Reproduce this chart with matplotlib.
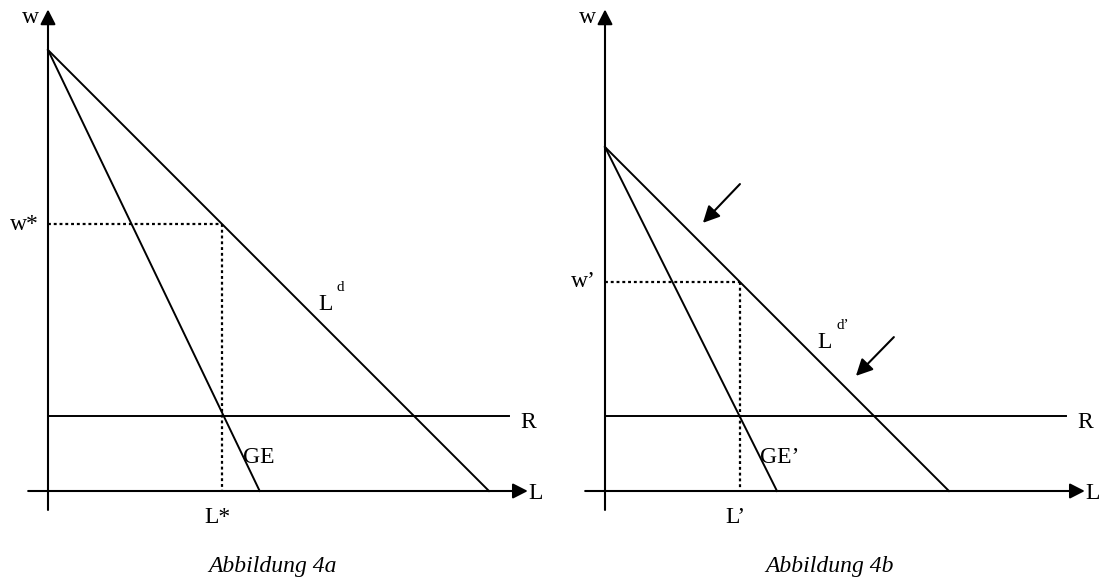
import matplotlib
matplotlib.use("Agg")
import matplotlib.pyplot as plt

plt.rcParams['font.family'] = ['Liberation Serif', 'DejaVu Serif']

# diagram values per panel (a, b)
w_max = [10.0, 7.8]        # common intercept of L^d and GE on the w axis
ld_max = [10.0, 7.8]       # L^d intercept on the L axis
ge_max = [4.8, 3.9]        # GE intercept on the L axis
r_level = [1.7, 1.7]       # reservation wage R
w_eq = [6.05, 4.75]        # w*, w'
l_eq = [3.95, 3.05]        # L*, L'
w_labels = ['w*', 'w’']
l_labels = ['L*', 'L’']
ge_labels = ['GE', 'GE’']
ld_sup = ['d', 'd’']
captions = ['Abbildung 4a', 'Abbildung 4b']

W, H = 1105, 580
scale = 44.1                # pixels per unit
origins_x = [48, 605]
origin_y = 491
fs = 17

fig = plt.figure(figsize=(W / 100, H / 100), dpi=100)

for i in range(2):
    ax = fig.add_axes([0, 0, 1, 1])
    ax.patch.set_visible(False)
    ax.set_axis_off()
    ax.set_xlim(-origins_x[i] / scale, (W - origins_x[i]) / scale)
    ax.set_ylim((origin_y - H) / scale, origin_y / scale)

    arr = dict(arrowstyle='-|>,head_length=0.45,head_width=0.23', lw=1.5,
               color='k', mutation_scale=20, shrinkA=0, shrinkB=0)
    # axes
    ax.annotate('', xy=(0, 10.92), xytext=(0, -0.43), arrowprops=arr)
    ax.annotate('', xy=(10.88, 0), xytext=(-0.45, 0), arrowprops=arr)
    ax.text(-0.2, 10.73, 'w', fontsize=fs, ha='right', va='center')
    ax.text(10.9, -0.05, 'L', fontsize=fs, ha='left', va='center')

    # curves
    ax.plot([0, ld_max[i]], [w_max[i], 0], color='k', lw=1.4)
    ax.plot([0, ge_max[i]], [w_max[i], 0], color='k', lw=1.4)
    ax.plot([0, 10.45], [r_level[i], r_level[i]], color='k', lw=1.4)

    # equilibrium guides
    ax.plot([0, l_eq[i]], [w_eq[i], w_eq[i]], color='k', lw=1.6,
            linestyle=(0, (1.3, 1.3)))
    ax.plot([l_eq[i], l_eq[i]], [w_eq[i], 0], color='k', lw=1.6,
            linestyle=(0, (1.3, 1.3)))

    ax.text(-0.2, w_eq[i], w_labels[i], fontsize=fs, ha='right', va='center')
    ax.text(l_eq[i] - 0.1, -0.6, l_labels[i], fontsize=fs, ha='center', va='center')
    ax.text(ge_max[i] - 0.38, 0.75, ge_labels[i], fontsize=fs, ha='left', va='center')
    ax.text(10.7, r_level[i] - 0.15, 'R', fontsize=fs, ha='left', va='center')

    # L^d label beside the demand line
    lx = [6.12, 4.82][i]
    ly = [4.22, 3.36][i]
    ax.text(lx, ly, 'L', fontsize=fs, ha='left', va='center')
    ax.text(lx + 0.42, ly + 0.4, ld_sup[i], fontsize=11, ha='left', va='center')

    ax.text(5.1, -1.72, captions[i], fontsize=fs, style='italic',
            ha='center', va='center')

    if i == 1:
        arr2 = dict(arrowstyle='-|>,head_length=0.5,head_width=0.25', lw=1.5,
                    color='k', mutation_scale=20, shrinkA=0, shrinkB=0)
        ax.annotate('', xy=(2.22, 6.08), xytext=(3.06, 6.96), arrowprops=arr2)
        ax.annotate('', xy=(5.69, 2.61), xytext=(6.55, 3.49), arrowprops=arr2)

fig.savefig('out.png', dpi=100)
